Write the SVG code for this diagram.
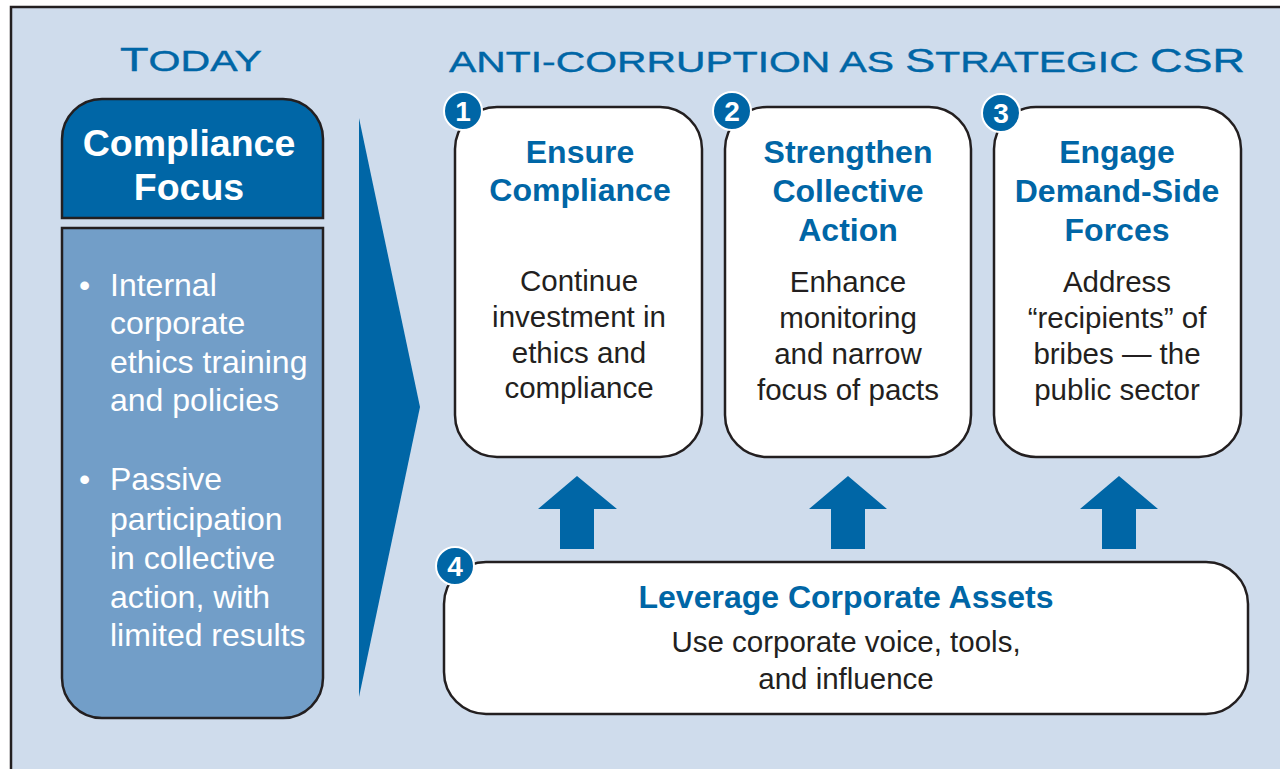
<svg xmlns="http://www.w3.org/2000/svg" width="1280" height="769" viewBox="0 0 1280 769">
<style>
.box{fill:#ffffff;stroke:#231f20;stroke-width:2.5}
.hd{font-family:"Liberation Sans",Arial,sans-serif;font-weight:bold;font-size:32px;fill:#0066a6;text-anchor:middle}
.bd{font-family:"Liberation Sans",Arial,sans-serif;font-size:29.5px;fill:#231f20;text-anchor:middle}
.wt{font-family:"Liberation Sans",Arial,sans-serif;font-size:32px;fill:#ffffff}
.wh{font-family:"Liberation Sans",Arial,sans-serif;font-size:37.5px;font-weight:bold;fill:#ffffff;text-anchor:middle}
.num{fill:#0066a6;stroke:#ffffff;stroke-width:2}
.numt{font-family:"Liberation Sans",Arial,sans-serif;font-weight:bold;font-size:28px;fill:#ffffff;text-anchor:middle}
.ttl{font-family:"Liberation Sans",Arial,sans-serif;fill:#0066a6;stroke:#0066a6;stroke-width:0.4}
.arr{fill:#0066a6}
</style>
<rect x="0" y="0" width="1280" height="769" fill="#ffffff"/>
<rect x="11" y="7" width="1290" height="790" fill="#cfdcec" stroke="#231f20" stroke-width="2.5"/>

<g id="title-today">
<text class="ttl" x="120" y="71" textLength="142" lengthAdjust="spacingAndGlyphs"><tspan font-size="33">T</tspan><tspan font-size="29">ODAY</tspan></text>
</g>
<g id="title-strategic">
<text class="ttl" x="449" y="72" textLength="796" lengthAdjust="spacingAndGlyphs"><tspan font-size="30">ANTI-CORRUPTION AS </tspan><tspan font-size="33">S</tspan><tspan font-size="30">TRATEGIC </tspan><tspan font-size="33">CSR</tspan></text>
</g>

<g id="compliance-focus">
<path d="M62,218 V139 A40,40 0 0 1 102,99 H283 A40,40 0 0 1 323,139 V218 Z" fill="#0066a6" stroke="#231f20" stroke-width="2.5"/>
<text class="wh" x="189" y="156">Compliance</text>
<text class="wh" x="189" y="200">Focus</text>
</g>
<g id="today-list">
<path d="M62,228 H323 V678 A40,40 0 0 1 283,718 H102 A40,40 0 0 1 62,678 Z" fill="#729ec8" stroke="#231f20" stroke-width="2.5"/>
<text class="wt" x="79" y="296">•</text>
<text class="wt" x="110" y="296">Internal</text>
<text class="wt" x="110" y="334">corporate</text>
<text class="wt" x="110" y="373">ethics training</text>
<text class="wt" x="110" y="411">and policies</text>
<text class="wt" x="79" y="490">•</text>
<text class="wt" x="110" y="490">Passive</text>
<text class="wt" x="110" y="530">participation</text>
<text class="wt" x="110" y="569">in collective</text>
<text class="wt" x="110" y="608">action, with</text>
<text class="wt" x="110" y="646">limited results</text>
</g>

<g id="connectors">
<polygon class="arr" points="359,118 420,407 359,697"/>
<polygon class="arr" points="577,476 617,509 594,509 594,549 560,549 560,509 538,509"/>
<polygon class="arr" points="848,476 887,509 865,509 865,549 831,549 831,509 809,509"/>
<polygon class="arr" points="1119,476 1158,509 1136,509 1136,549 1102,549 1102,509 1080,509"/>
</g>

<g id="ensure-compliance">
<rect class="box" x="455" y="107" width="247" height="350" rx="42"/>
<text class="hd" x="580" y="163">Ensure</text>
<text class="hd" x="580" y="201">Compliance</text>
<text class="bd" x="579" y="291">Continue</text>
<text class="bd" x="579" y="327">investment in</text>
<text class="bd" x="579" y="363">ethics and</text>
<text class="bd" x="579" y="398">compliance</text>
<circle class="num" cx="463" cy="111" r="19"/>
<text class="numt" x="463" y="121">1</text>
</g>

<g id="strengthen-collective-action">
<rect class="box" x="725" y="107" width="246" height="350" rx="42"/>
<text class="hd" x="848" y="163">Strengthen</text>
<text class="hd" x="848" y="202">Collective</text>
<text class="hd" x="848" y="241">Action</text>
<text class="bd" x="848" y="292">Enhance</text>
<text class="bd" x="848" y="328">monitoring</text>
<text class="bd" x="848" y="364">and narrow</text>
<text class="bd" x="848" y="400">focus of pacts</text>
<circle class="num" cx="732" cy="111" r="19"/>
<text class="numt" x="732" y="121">2</text>
</g>

<g id="engage-demand-side">
<rect class="box" x="994" y="107" width="247" height="350" rx="42"/>
<text class="hd" x="1117" y="163">Engage</text>
<text class="hd" x="1117" y="202">Demand-Side</text>
<text class="hd" x="1117" y="241">Forces</text>
<text class="bd" x="1117" y="292">Address</text>
<text class="bd" x="1117" y="328">“recipients” of</text>
<text class="bd" x="1117" y="364">bribes — the</text>
<text class="bd" x="1117" y="400">public sector</text>
<circle class="num" cx="1001" cy="113" r="19"/>
<text class="numt" x="1001" y="123">3</text>
</g>

<g id="leverage-assets">
<rect class="box" x="444" y="562" width="804" height="152" rx="42"/>
<text class="hd" x="846" y="608">Leverage Corporate Assets</text>
<text class="bd" x="846" y="652">Use corporate voice, tools,</text>
<text class="bd" x="846" y="689">and influence</text>
<circle class="num" cx="455" cy="566" r="19"/>
<text class="numt" x="455" y="576">4</text>
</g>
</svg>
